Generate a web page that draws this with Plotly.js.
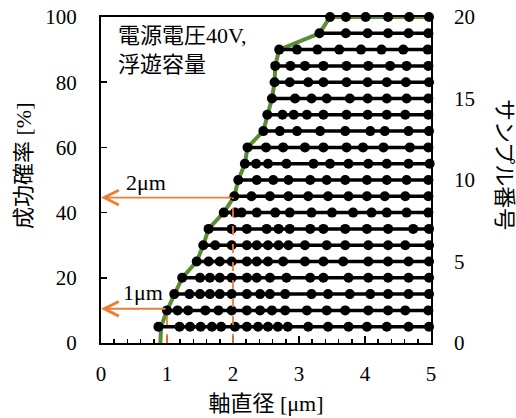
<!DOCTYPE html>
<html>
<head>
<meta charset="utf-8">
<script src="https://cdn.plot.ly/plotly-3.0.1.min.js"></script>
<style>html,body{margin:0;padding:0;background:#fff;}#chart{width:516px;height:418px;}</style>
</head>
<body>
<div id="chart"></div>
<script>
// Sample rows (sample number 1..20): shaft diameters [μm] of measured points
const row01 = [0.87,1.19,1.35,1.51,1.68,1.82,2.03,2.21,2.38,2.53,2.68,2.83,3.14,3.44,3.75,4.03,4.33,4.66,4.97];
const row02 = [1.00,1.16,1.32,1.58,1.78,1.98,2.21,2.41,2.59,2.79,3.12,3.42,3.70,4.05,4.35,4.61,4.96];
const row03 = [1.11,1.34,1.50,1.65,1.80,1.98,2.21,2.41,2.56,2.79,3.19,3.44,3.77,4.08,4.35,4.66,4.97];
const row04 = [1.23,1.50,1.65,1.80,1.98,2.21,2.36,2.56,2.81,3.17,3.37,3.75,4.05,4.35,4.66,4.97];
const row05 = [1.45,1.63,1.80,1.98,2.21,2.36,2.53,2.76,3.09,3.37,3.67,4.05,4.35,4.66,4.97];
const row06 = [1.55,1.73,1.98,2.21,2.36,2.53,2.69,2.84,3.09,3.42,3.70,4.05,4.35,4.61,4.97];
const row07 = [1.63,1.98,2.21,2.51,2.69,2.86,3.17,3.37,3.70,4.03,4.35,4.73,4.97];
const row08 = [1.86,2.03,2.13,2.36,2.64,2.86,3.19,3.50,3.82,4.10,4.33,4.63,4.96];
const row09 = [2.02,2.28,2.56,2.84,3.14,3.44,3.75,4.03,4.30,4.61,4.96];
const row10 = [2.08,2.36,2.61,2.84,3.17,3.42,3.70,4.03,4.33,4.63,4.96];
const row11 = [2.18,2.35,2.53,2.81,3.22,3.47,3.75,4.05,4.33,4.66,4.98];
const row12 = [2.22,2.50,2.76,3.09,3.37,3.72,3.97,4.28,4.68,4.96];
const row13 = [2.46,2.71,2.97,3.32,3.70,4.08,4.30,4.66,4.97];
const row14 = [2.52,2.75,2.92,3.12,3.37,3.72,4.04,4.33,4.61,4.96];
const row15 = [2.59,2.94,3.19,3.42,3.77,4.04,4.33,4.63,4.96];
const row16 = [2.63,2.86,3.14,3.37,3.72,4.04,4.33,4.62,4.97];
const row17 = [2.64,2.87,3.09,3.37,3.72,4.05,4.38,4.63,4.96];
const row18 = [2.70,2.97,3.28,3.61,3.94,4.25,4.58,4.95];
const row19 = [3.31,3.71,4.04,4.35,4.66,4.96];
const row20 = [3.47,3.71,4.01,4.35,4.67,4.97];
const rows = [row01,row02,row03,row04,row05,row06,row07,row08,row09,row10,
              row11,row12,row13,row14,row15,row16,row17,row18,row19,row20];

// Success probability curve [%]
const successX = [0.90,0.91,1.00,1.11,1.23,1.45,1.55,1.63,1.86,2.02,2.08,2.18,2.22,2.46,2.52,2.59,2.63,2.64,2.70,3.31,3.47,5.00];
const successY = [0,5,10,15,20,25,30,35,40,45,50,55,60,65,70,75,80,85,90,95,100,100];

// Reading marks
const markX = [1, 2];
const markY = [10.5, 44.6];
const markLabels = ['1μm', '2μm'];
const markLabelX = [0.64, 0.68];
const markLabelY = [15.6, 49.1];

const noteText = '電源電圧40V,<br>浮遊容量';
const xTitle = '軸直径 [μm]';
const yTitle = '成功確率 [%]';
const y2Title = 'サンプル番号';

const FONT = 'Liberation Serif, "Noto Sans CJK JP", serif';
const ORANGE = '#ED7D31';
const GREEN = '#5b8c36';

const traces = [];
traces.push({
  x: successX, y: successY, xaxis: 'x', yaxis: 'y',
  mode: 'lines', line: {color: GREEN, width: 4}, hoverinfo: 'skip'
});
rows.forEach((r, i) => {
  const n = i + 1;
  traces.push({
    x: r, y: r.map(() => n), xaxis: 'x', yaxis: 'y2',
    mode: n === rows.length ? 'markers' : 'lines+markers',
    line: {color: '#000', width: 3.5},
    marker: {color: '#000', size: 10},
    cliponaxis: false, hoverinfo: 'skip'
  });
});

const annotations = [];
markX.forEach((mx, i) => {
  annotations.push({
    x: 0, y: markY[i], ax: mx, ay: markY[i], xref: 'x', yref: 'y', axref: 'x', ayref: 'y',
    showarrow: true, arrowhead: 5, arrowsize: 1.6, arrowwidth: 1.8, arrowcolor: ORANGE,
    text: '', standoff: 0, startstandoff: 0
  });
  annotations.push({
    x: markLabelX[i], y: markLabelY[i], xref: 'x', yref: 'y', showarrow: false,
    text: markLabels[i], font: {family: FONT, size: 22, color: '#000'}
  });
});
annotations.push({
  x: 0.22, y: 90, xref: 'x', yref: 'y', xanchor: 'left', yanchor: 'middle', align: 'left',
  showarrow: false, text: noteText, font: {family: FONT, size: 22, color: '#000'}
});
// Axis titles placed like the original (slightly above the axis middle)
const plotL = 101, plotT = 17, plotW = 330, plotH = 326;
annotations.push({
  x: (23 - plotL) / plotW, y: 1 - (166 - plotT) / plotH, xref: 'paper', yref: 'paper',
  xanchor: 'center', yanchor: 'middle', showarrow: false, textangle: -90,
  text: yTitle, font: {family: FONT, size: 22, color: '#000'}
});
annotations.push({
  x: (505 - plotL) / plotW, y: 1 - (165 - plotT) / plotH, xref: 'paper', yref: 'paper',
  xanchor: 'center', yanchor: 'middle', showarrow: false, textangle: 90,
  text: y2Title, font: {family: FONT, size: 22, color: '#000'}
});

const shapes = markX.map((mx, i) => ({
  type: 'line', xref: 'x', yref: 'y', x0: mx, x1: mx, y0: 0, y1: markY[i],
  line: {color: ORANGE, width: 1.8, dash: 'dash'}
}));

const layout = {
  width: 516, height: 418,
  margin: {l: 101, r: 85, t: 17, b: 75, pad: 0},
  paper_bgcolor: '#fff', plot_bgcolor: '#fff',
  showlegend: false,
  font: {family: FONT, size: 21, color: '#000'},
  xaxis: {
    range: [0, 5], dtick: 1, ticks: 'inside', ticklen: 7, tickwidth: 1.5, tickcolor: '#000',
    minor: {dtick: 0.2, ticks: 'inside', ticklen: 4, tickwidth: 1.5, tickcolor: '#000'},
    showline: true, linewidth: 2, linecolor: '#000', mirror: true,
    showgrid: false, zeroline: false, ticklabelstandoff: 11,
    tickfont: {family: FONT, size: 21},
    title: {text: xTitle, font: {family: FONT, size: 22}, standoff: 10}
  },
  yaxis: {
    range: [0, 100], dtick: 20, ticks: 'inside', ticklen: 6, tickwidth: 1.5, tickcolor: '#000',
    showline: true, linewidth: 2, linecolor: '#000', mirror: true,
    showgrid: false, zeroline: false, ticklabelstandoff: 18,
    tickfont: {family: FONT, size: 21}
  },
  yaxis2: {
    range: [0, 20], dtick: 5, overlaying: 'y', side: 'right', ticks: '',
    showline: false, showgrid: false, zeroline: false, ticklabelstandoff: 22,
    tickfont: {family: FONT, size: 21}
  },
  annotations: annotations,
  shapes: shapes
};

Plotly.newPlot('chart', traces, layout, {staticPlot: true, displayModeBar: false});
</script>
</body>
</html>
